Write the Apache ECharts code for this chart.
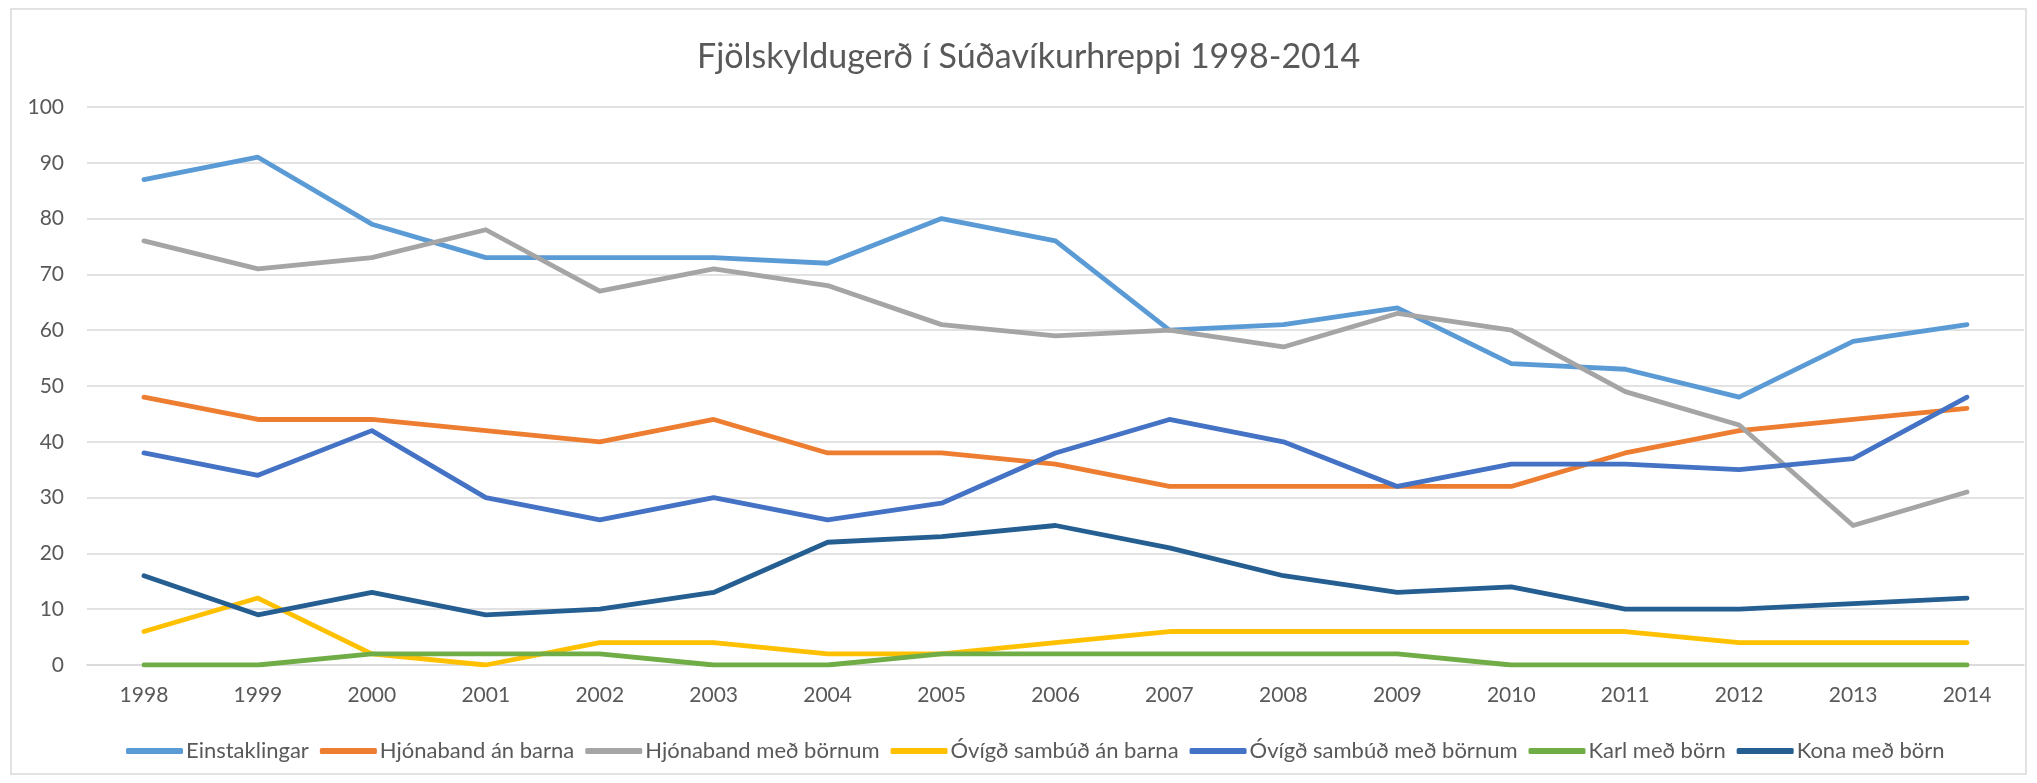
<!DOCTYPE html>
<html>
<head>
<meta charset="utf-8">
<script src="https://cdn.jsdelivr.net/npm/echarts@6/dist/echarts.min.js"></script>
<style>
  html, body { margin: 0; padding: 0; background: #fff; }
  #main { width: 2037px; height: 783px; }
</style>
</head>
<body>
<div id="main"></div>
<script>
// ár
const years = ['1998', '1999', '2000', '2001', '2002', '2003', '2004', '2005', '2006',
  '2007', '2008', '2009', '2010', '2011', '2012', '2013', '2014'];

// gögn úr myndinni
const einstaklingar = [87, 91, 79, 73, 73, 73, 72, 80, 76, 60, 61, 64, 54, 53, 48, 58, 61];
const hjonabandAnBarna = [48, 44, 44, 42, 40, 44, 38, 38, 36, 32, 32, 32, 32, 38, 42, 44, 46];
const hjonabandMedBornum = [76, 71, 73, 78, 67, 71, 68, 61, 59, 60, 57, 63, 60, 49, 43, 25, 31];
const ovigdAnBarna = [6, 12, 2, 0, 4, 4, 2, 2, 4, 6, 6, 6, 6, 6, 4, 4, 4];
const ovigdMedBornum = [38, 34, 42, 30, 26, 30, 26, 29, 38, 44, 40, 32, 36, 36, 35, 37, 48];
const karlMedBorn = [0, 0, 2, 2, 2, 0, 0, 2, 2, 2, 2, 2, 0, 0, 0, 0, 0];
const konaMedBorn = [16, 9, 13, 9, 10, 13, 22, 23, 25, 21, 16, 13, 14, 10, 10, 11, 12];

const seriesNames = ['Einstaklingar', 'Hjónaband án barna', 'Hjónaband með börnum',
  'Óvígð sambúð án barna', 'Óvígð sambúð með börnum', 'Karl með börn', 'Kona með börn'];
const seriesData = [einstaklingar, hjonabandAnBarna, hjonabandMedBornum,
  ovigdAnBarna, ovigdMedBornum, karlMedBorn, konaMedBorn];
const colors = ['#5B9BD5', '#ED7D31', '#A5A5A5', '#FFC000', '#4472C4', '#70AD47', '#255E91'];

const yTicks = [0, 100, 10]; // min, max, interval

const chart = echarts.init(document.getElementById('main'), null, { renderer: 'canvas' });

const textColor = '#595959';
const font = 'Lato, "Open Sans", sans-serif';

const option = {
  backgroundColor: '#fff',
  color: colors,
  animation: false,
  title: {
    text: 'Fjölskyldugerð í Súðavíkurhreppi 1998-2014',
    left: 692,
    top: 35,
    textStyle: { color: textColor, fontSize: 34, fontWeight: 'normal', fontFamily: font }
  },
  legend: {
    top: 735,
    left: 121,
    icon: 'roundRect',
    itemWidth: 57,
    itemHeight: 6,
    itemGap: 11,
    textStyle: { color: textColor, fontSize: 22, fontFamily: font, padding: [0, 0, 0, -2] },
    data: seriesNames
  },
  grid: { left: 87, right: 13, top: 107, bottom: 118, containLabel: false },
  xAxis: {
    type: 'category',
    data: years,
    boundaryGap: true,
    axisLine: { show: true, lineStyle: { color: '#d9d9d9', width: 1.5 } },
    axisTick: { show: false },
    axisLabel: { color: textColor, fontSize: 21, fontFamily: font, margin: 20 }
  },
  yAxis: {
    type: 'value',
    min: yTicks[0],
    max: yTicks[1],
    interval: yTicks[2],
    axisLine: { show: false },
    axisTick: { show: false },
    axisLabel: { color: textColor, fontSize: 21, fontFamily: font, margin: 23 },
    splitLine: { lineStyle: { color: '#d9d9d9', width: 1.5 } }
  },
  series: seriesNames.map((name, i) => ({
    name: name,
    type: 'line',
    data: seriesData[i],
    symbol: 'none',
    lineStyle: { width: 4.8, cap: 'round', join: 'round' },
    z: 2 + i
  })),
  graphic: [{
    type: 'rect',
    shape: { x: 11, y: 9, width: 2037 - 22, height: 783 - 18 },
    style: { fill: 'none', stroke: '#d9d9d9', lineWidth: 1.5 },
    silent: true
  }]
};

chart.setOption(option);
</script>
</body>
</html>
